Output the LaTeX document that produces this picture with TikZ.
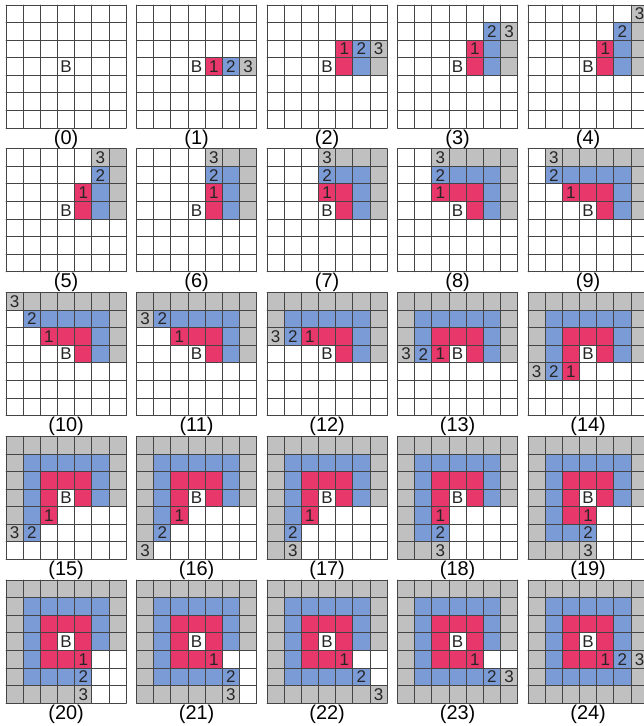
\documentclass[tikz,border=0pt]{standalone}
\usepackage{fontspec}
\setmainfont{Liberation Sans}
\definecolor{ringA}{HTML}{E8376A}
\definecolor{ringB}{HTML}{7B9BD6}
\definecolor{ringC}{HTML}{C0C0C0}
\definecolor{gridcol}{HTML}{454545}
% cell (cx,cy) of ring #1 at index #2, counted from the cell right of B
\newcommand\ringcell[2]{%
  \pgfmathtruncatemacro\cx{(#2<=#1)?#1:((#2<=3*#1)?(2*#1-#2):((#2<=5*#1)?(-#1):((#2<=7*#1)?(#2-6*#1):#1)))}%
  \pgfmathtruncatemacro\cy{(#2<=#1)?(-#2):((#2<=3*#1)?(-#1):((#2<=5*#1)?(#2-4*#1):((#2<=7*#1)?#1:(8*#1-#2))))}%
}
\tikzset{
  gridline/.style={draw=gridcol, line width=0.8pt},
  cellnum/.style={inner sep=0pt, text=black!85, font=\fontsize{14.5}{16}\selectfont},
  steplabel/.style={inner sep=0pt, font=\fontsize{17}{19}\selectfont},
}
\begin{document}
\begin{tikzpicture}[x=0.03cm,y=-0.03cm,line join=round,line cap=round]
	\useasboundingbox (0,0) rectangle (644,726);
	\clip (0,0) rectangle (644,726);
	\foreach \k/\na/\nb/\nc in {0/0/0/0,1/1/1/1,2/2/2/2,3/2/3/3,4/2/3/4,5/2/3/5,6/2/4/6,7/3/5/7,8/4/6/8,9/4/7/9,10/4/7/10,11/4/7/11,12/4/8/12,13/5/9/13,14/6/10/14,15/6/11/15,16/6/11/16,17/6/11/17,18/6/12/18,19/7/13/19,20/8/14/20,21/8/15/21,22/8/15/22,23/8/15/23,24/8/16/24}{
		\pgfmathtruncatemacro\pc{mod(\k,5)}
		\pgfmathtruncatemacro\pr{div(\k,5)}
		\begin{scope}[shift={(6+130.5*\pc,5+143.8*\pr)},x=0.515cm,y=-0.527cm]
			\foreach \r/\n/\fc in {1/\na/ringA,2/\nb/ringB,3/\nc/ringC}{
				\pgfmathtruncatemacro\cnt{\n}
				\ifnum\cnt>0
					\foreach \i in {1,...,\cnt}{
						\pgfmathtruncatemacro\ii{\i-1}
						\ringcell{\r}{\ii}
						\fill[\fc] (3+\cx,3+\cy) rectangle ++(1,1);
					}
				\fi
			}
			\foreach \j in {0,...,7}{
				\draw[gridline] (\j,0)--(\j,7);
				\draw[gridline] (0,\j)--(7,\j);
			}
			\foreach \r/\n in {1/\na,2/\nb,3/\nc}{
				\pgfmathtruncatemacro\cnt{\n}
				\ifnum\cnt>0
					\pgfmathtruncatemacro\ii{\cnt-1}
					\ringcell{\r}{\ii}
					\node[cellnum] (lab\k-\r) at (3.5+\cx,3.5+\cy) {\r};
				\fi
			}
			\node[cellnum] (b\k) at (3.5,3.5) {B};
			\node[steplabel] (t\k) at (3.5,7.63) {(\k)};
		\end{scope}
	}
\end{tikzpicture}
\end{document}
